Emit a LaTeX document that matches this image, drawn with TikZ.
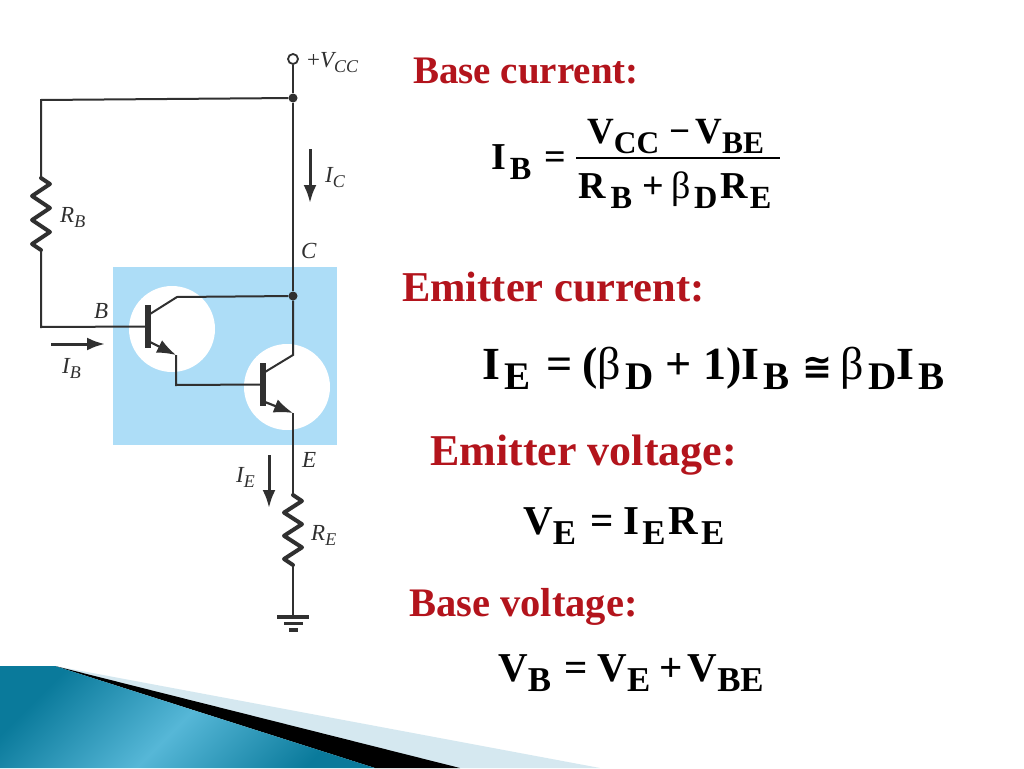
\documentclass[tikz,border=0pt]{standalone}
\usepackage{fontspec}
\setmainfont{Liberation Serif}
\newfontfamily\symfont{DejaVu Sans}
\usetikzlibrary{arrows.meta}
\definecolor{swatch}{HTML}{ADDDF7}
\definecolor{wire}{HTML}{303030}
\definecolor{headred}{HTML}{B3141C}
\definecolor{paleblue}{HTML}{D5E8F0}
\definecolor{tealdark}{HTML}{0A7A9B}
\definecolor{teallight}{HTML}{56B7D7}
\pgfdeclarehorizontalshading{tealband}{100bp}{color(0bp)=(tealdark); color(40bp)=(tealdark); color(50bp)=(teallight); color(60bp)=(tealdark); color(100bp)=(tealdark)}
\newcommand\dn[2][0]{\kern#1pt\raisebox{-10pt}{\scalebox{.85}{#2}}}
\newcommand\ldn[1]{\raisebox{-.26em}{\scalebox{.78}{#1}}}
\newcommand\fs[1]{\fontsize{#1}{#1}\selectfont}
\newcommand\gap[1]{\kern#1pt}
\newcommand\bet{{\mdseries β}}
\tikzset{
 x=1pt,y=-1pt,
 wirepath/.style={draw=wire,line width=2pt,line join=miter},
 barbox/.style={draw=none,fill=wire,minimum width=6pt,minimum height=43pt,inner sep=0},
 dotnode/.style={circle,fill=wire,minimum size=9pt,inner sep=0},
 opennode/.style={circle,draw=wire,line width=1.8pt,fill=white,minimum size=10pt,inner sep=0},
 cur/.style={draw=wire,line width=3pt,-{Latex[length=18pt,width=13pt]}},
 emit/.style={draw=wire,line width=2.2pt,-{Latex[length=19pt,width=14pt]}},
 res/.style={draw=wire,line width=4pt,line join=round,line cap=round},
 lab/.style={anchor=base west,inner sep=0,text=wire,font=\fs{23}\itshape},
 head/.style={anchor=base west,inner sep=0,text=headred,font=\bfseries},
 eq/.style={anchor=base west,inner sep=0,text=black,font=\bfseries},
 gbar/.style={draw=wire,line width=3.5pt},
}
\begin{document}
\begin{tikzpicture}
\useasboundingbox (0,0) rectangle (1024,768);
\fill[white] (0,0) rectangle (1024,768);
% footer
\fill[paleblue] (55,666) -- (600,768) -- (450,768) -- cycle;
\fill[black] (55,666) -- (460,768) -- (375,768) -- cycle;
\begin{scope}
\clip (0,666) -- (55,666) -- (375,768) -- (0,768) -- cycle;
\shade[shading=tealband,shading angle=-45] (-113,417) rectangle (487,1017);
\end{scope}
% swatch
\fill[swatch] (113,267) rectangle (337,445);
\fill[white] (172,329) circle[radius=43];
\fill[white] (287,387) circle[radius=43];
% named points
\node[opennode] (vcc) at (293,59) {};
\node[dotnode] (top) at (293,98) {};
\coordinate (tl) at (41,100);
\coordinate (rbt) at (41,178);
\coordinate (rbb) at (41,250);
\coordinate (bl) at (41,327);
\node[barbox] (q1) at (148,326.5) {};
\node[barbox] (q2) at (263,384.5) {};
\node[dotnode] (cj) at (293,296) {};
\coordinate (q1c) at (150,314);
\coordinate (q1k) at (177,297);
\coordinate (q1e) at (150,342);
\coordinate (q1x) at (176,355);
\coordinate (q1d) at (176,385);
\coordinate (q2c) at (265,372);
\coordinate (q2k) at (293,355);
\coordinate (q2e) at (265,402);
\coordinate (q2x) at (293,413);
\coordinate (ret) at (293,495);
\coordinate (reb) at (293,565);
\coordinate (gnd) at (293,617);
% wires
\draw[wirepath] (vcc) -- (top);
\draw[wirepath] (top) -- (cj);
\draw[wirepath] (top) -- (tl) -- (rbt);
\draw[wirepath] (rbb) -- (bl) -- (q1);
\draw[wirepath] (q1c) -- (q1k) -- (cj);
\draw[wirepath] (q1x) -- (q1d) -- (q2);
\draw[wirepath] (cj) -- (q2k) -- (q2c);
\draw[wirepath] (q2x) -- (ret);
\draw[wirepath] (reb) -- (gnd);
\draw[emit] (q1e) -- (q1x);
\draw[emit] (q2e) -- (q2x);
\node[barbox] at (q1) {};
\node[barbox] at (q2) {};
% resistors
\draw[res] (rbt) -- ++(9,6) -- ++(-18,12) -- ++(18,12) -- ++(-18,12) -- ++(18,12) -- ++(-18,12) -- (rbb);
\draw[res] (ret) -- ++(9,6) -- ++(-18,11.6) -- ++(18,11.6) -- ++(-18,11.6) -- ++(18,11.6) -- ++(-18,11.6) -- (reb);
% ground
\draw[gbar] (277,617) -- (309,617);
\draw[gbar] (284,623.5) -- (303,623.5);
\draw[gbar] (289,630) -- (298,630);
% current arrows
\coordinate (ica) at (310,149); \coordinate (icb) at (310,203);
\coordinate (iea) at (269,455); \coordinate (ieb) at (269,508);
\coordinate (iba) at (51,344); \coordinate (ibb) at (105,344);
\draw[cur] (ica) -- (icb);
\draw[cur] (iea) -- (ieb);
\draw[cur] (iba) -- (ibb);
% labels
\node[lab] (lvcc) at (307,67) {{\upshape +}V\ldn{CC}};
\node[lab] (lic) at (325,182) {I\ldn{C}};
\node[lab] (lrb) at (60,222) {R\ldn{B}};
\node[lab] (lc) at (301,258) {C};
\node[lab] (lb) at (94,318) {B};
\node[lab] (lib) at (62,373) {I\ldn{B}};
\node[lab] (le) at (302,467) {E};
\node[lab] (lie) at (236,482) {I\ldn{E}};
\node[lab] (lre) at (311,540) {R\ldn{E}};
% text
\node[head,font=\fs{39}\bfseries] (h1) at (413,83) {Base current:};
\node[head,font=\fs{42.5}\bfseries] (h2) at (402,301) {Emitter current:};
\node[head,font=\fs{44}\bfseries] (h3) at (430,465) {Emitter voltage:};
\node[head,font=\fs{40.5}\bfseries] (h4) at (409,616) {Base voltage:};
\node[eq,font=\fs{38}\bfseries] (e1) at (491,169) {I\dn[4]{B}\gap{13}=};
\node[eq,font=\fs{37}\bfseries] (e1n) at (587,143) {V\dn{CC}\gap{10}−\gap{5}V\dn{BE}};
\coordinate (fa) at (576,158); \coordinate (fb) at (780,158);
\draw[line width=1.6pt,black] (fa) -- (fb);
\node[eq,font=\fs{38}\bfseries] (e1d) at (578,198) {R\dn[5]{B}\gap{10}+\gap{8}\bet\dn[3]{D}\gap{3}R\dn[2]{E}};
\node[eq,font=\fs{46}\bfseries] (e2) at (482,379) {I\dn[4]{E}\gap{16}=\gap{10}(\bet\dn[4]{D}\gap{12}+\gap{12}1)I\dn[4]{B}\gap{13}{\symfont\scalebox{.78}{≅}}\gap{8}\bet\dn[4]{D}I\dn[4]{B}};
\node[eq,font=\fs{41}\bfseries] (e3) at (523,534) {V\dn{E}\gap{14}=\gap{10}I\dn[3]{E}\gap{3}R\dn[3]{E}};
\node[eq,font=\fs{41}\bfseries] (e4) at (498,681) {V\dn{B}\gap{13}=\gap{10}V\dn{E}\gap{9}+\gap{5}V\dn{BE}};
\end{tikzpicture}
\end{document}
